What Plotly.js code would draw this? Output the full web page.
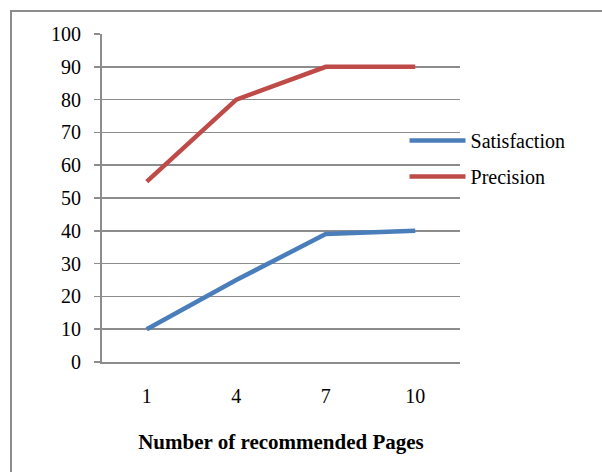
<!DOCTYPE html>
<html>
<head>
<meta charset="utf-8">
<script src="https://cdn.plot.ly/plotly-3.0.1.min.js"></script>
<style>
html,body{margin:0;padding:0;background:#fff;}
#frame{position:absolute;left:10px;top:10px;width:600px;height:470px;border-left:2px solid #8c8c8c;border-top:2px solid #8c8c8c;box-sizing:border-box;}
#chart{position:absolute;left:0;top:0;width:602px;height:472px;}
</style>
</head>
<body>
<div id="chart"></div>
<div id="frame"></div>
<script>
const categories = ["1", "4", "7", "10"];
const satisfaction = [10, 25, 39, 40];
const precision = [55, 80, 90, 90];
const yTicks = [0, 10, 20, 30, 40, 50, 60, 70, 80, 90, 100];

const font = {family: "Liberation Serif, Times New Roman, serif", size: 20, color: "#000"};
const titleFont = {family: "Liberation Serif, Times New Roman, serif", size: 21, color: "#000"};

const traces = [
  {x: categories, y: satisfaction, name: "Satisfaction", legendgroup: "s", type: "scatter", mode: "lines",
   line: {color: "#4A7EBB", width: 4.5}},
  {x: categories, y: precision, name: "Precision", legendgroup: "p", type: "scatter", mode: "lines",
   line: {color: "#BE4B48", width: 4.5}}
];

const layout = {
  width: 602, height: 472,
  margin: {l: 102, r: 142, t: 34, b: 110},
  paper_bgcolor: "#fff", plot_bgcolor: "#fff",
  font: font,
  showlegend: true,
  legend: {x: 0.845, y: 0.735, xanchor: "left", yanchor: "top", bgcolor: "rgba(0,0,0,0)",
           font: font, itemwidth: 56, traceorder: "grouped", tracegroupgap: 7},
  xaxis: {type: "category", range: [-0.5, 3.5], showgrid: false, zeroline: false,
          showline: true, linecolor: "#8c8c8c", linewidth: 2, ticks: "",
          tickfont: font, ticklabelstandoff: 15,
          title: {text: "<b>Number of recommended Pages</b>", font: titleFont, standoff: 28}},
  yaxis: {range: [0, 100], tickvals: yTicks, showgrid: true, gridcolor: "#8c8c8c", gridwidth: 1.5,
          zeroline: false, showline: true, linecolor: "#8c8c8c", linewidth: 2,
          ticks: "outside", ticklen: 6, tickcolor: "#8c8c8c", tickwidth: 1.5,
          tickfont: font, ticklabelstandoff: 9}
};

Plotly.newPlot("chart", traces, layout, {displayModeBar: false, staticPlot: true});
</script>
</body>
</html>
